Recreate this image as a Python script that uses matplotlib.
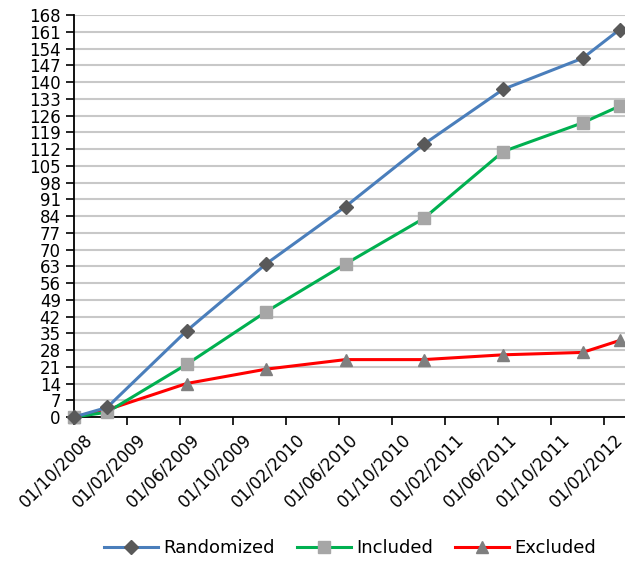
import matplotlib.pyplot as plt
import matplotlib.font_manager as fm
from matplotlib.transforms import ScaledTranslation

# months elapsed since 01/10/2008
months = [0, 2.5, 8.5, 14.5, 20.5, 26.4, 32.4, 38.4, 41.2]
randomized = [0, 4, 36, 64, 88, 114, 137, 150, 162]
included = [0, 2, 22, 44, 64, 83, 111, 123, 130]
excluded = [0, 3, 14, 20, 24, 24, 26, 27, 32]

tick_labels = ['01/10/2008', '01/02/2009', '01/06/2009', '01/10/2009',
               '01/02/2010', '01/06/2010', '01/10/2010', '01/02/2011',
               '01/06/2011', '01/10/2011', '01/02/2012']

names = {f.name for f in fm.fontManager.ttflist}
fam = 'Liberation Sans Narrow' if 'Liberation Sans Narrow' in names else 'DejaVu Sans'
plt.rcParams['font.family'] = [fam, 'DejaVu Sans']

fig = plt.figure(figsize=(6.25, 5.62), dpi=100)
ax = fig.add_axes([0.1184, 0.258, 0.8816, 0.715])

ax.plot(months, randomized, color='#4a7ebb', lw=2.2, marker='D', ms=7,
        mfc='#595959', mec='#595959', label='Randomized', clip_on=False, zorder=5)
ax.plot(months, included, color='#00b050', lw=2.2, marker='s', ms=9,
        mfc='#a6a6a6', mec='#a6a6a6', label='Included', clip_on=False, zorder=4)
ax.plot(months, excluded, color='#ff0000', lw=2.2, marker='^', ms=9,
        mfc='#7f7f7f', mec='#7f7f7f', label='Excluded', clip_on=False, zorder=3)

ax.set_ylim(0, 168)
ax.set_yticks(range(0, 169, 7))
ax.set_xlim(0, 41.6)
ax.set_xticks(range(0, 41, 4))
ax.set_xticklabels(tick_labels, rotation=45, ha='right', rotation_mode='anchor')
ax.tick_params(axis='both', labelsize=12, length=6, width=1.2, direction='out')

# labels sit a little right of their tick, as in the source chart
shift = ScaledTranslation(10 / 100, 0, fig.dpi_scale_trans)
for lab in ax.get_xticklabels():
    lab.set_transform(lab.get_transform() + shift)

ax.grid(axis='y', color='#c8c8c8', lw=1.5)
ax.set_axisbelow(True)
for s in ['top', 'right']:
    ax.spines[s].set_visible(False)
for s in ['left', 'bottom']:
    ax.spines[s].set_linewidth(1.3)

fig.legend(loc='center', bbox_to_anchor=(0.56, 0.025), ncol=3, frameon=False,
           fontsize=13, handlelength=3, columnspacing=1.2, handletextpad=0.3)

fig.savefig('out.png', dpi=100)
